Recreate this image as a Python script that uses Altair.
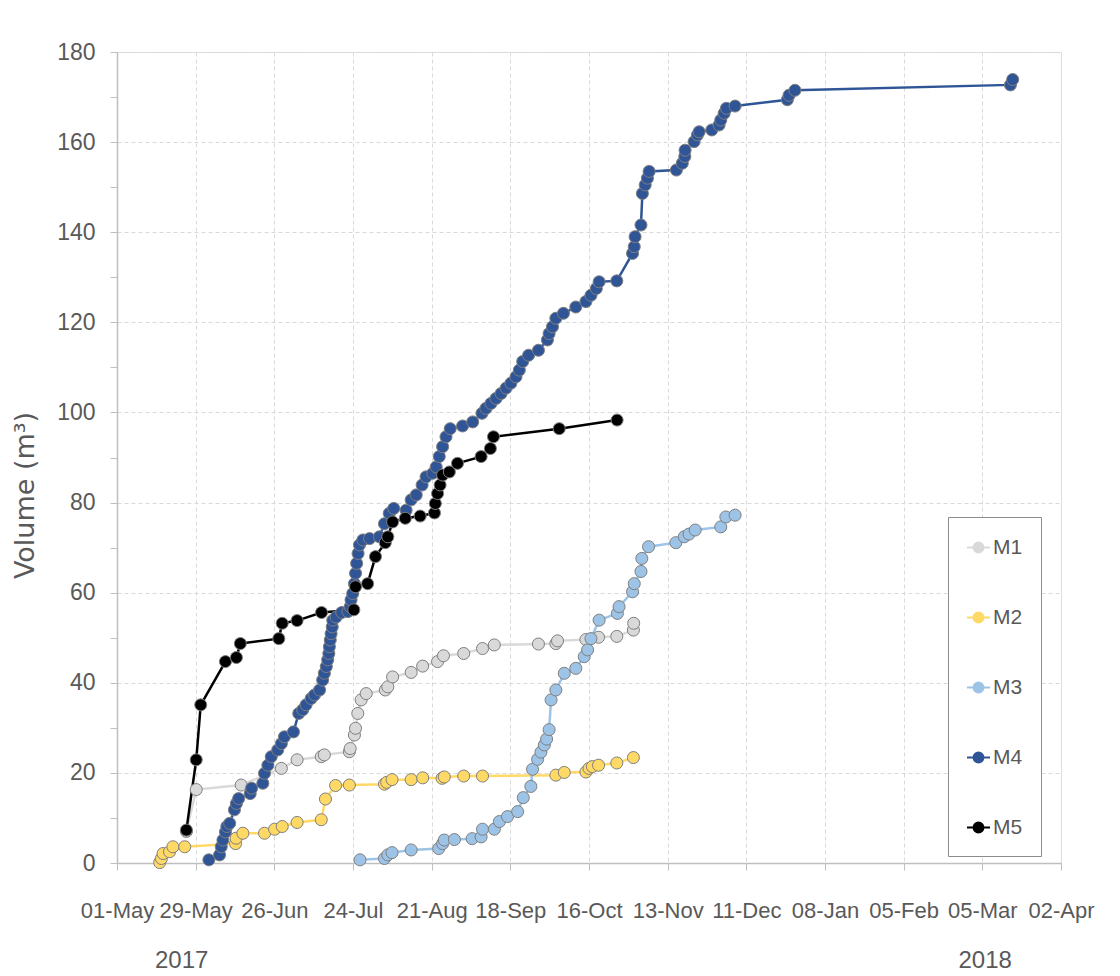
import datetime as dt
import altair as alt
import pandas as pd

# ---------------- data (days after 01-May-2017, volume in m3) ----------------
START = dt.date(2017, 5, 1)

series_names = ["M1", "M2", "M3", "M4", "M5"]
series_colors = ["#D9D9D9", "#FFD966", "#9DC3E6", "#2F5597", "#000000"]

m1_days = [24.7, 28.2, 44.2, 58.5, 64.1, 72.7, 73.8, 82.7, 83.0, 84.5, 84.9, 85.7,
           86.9, 88.7, 95.5, 96.4, 98.1, 104.7, 108.8, 114.1, 116.2, 123.4, 130.1,
           134.3, 150.0, 156.2, 156.8, 166.9, 171.4, 177.9, 183.8, 183.9]
m1_vol = [7.0, 16.3, 17.3, 21.0, 22.9, 23.6, 24.0, 24.7, 25.4, 28.4, 29.9, 33.2,
          36.2, 37.6, 38.4, 39.1, 41.3, 42.3, 43.7, 44.7, 46.0, 46.5, 47.6,
          48.4, 48.6, 48.7, 49.3, 49.6, 50.1, 50.3, 51.7, 53.2]

m2_days = [15.2, 15.8, 16.4, 18.7, 19.9, 24.1, 42.2, 42.4, 44.8, 52.5, 56.1, 58.8,
           64.1, 72.7, 74.2, 77.8, 82.7, 95.2, 96.0, 97.9, 104.7, 108.8, 115.7,
           116.5, 123.4, 130.1, 156.2, 159.2, 166.9, 168.0, 169.2, 171.4, 177.9, 183.8]
m2_vol = [0.1, 1.0, 2.1, 2.5, 3.6, 3.6, 4.3, 5.5, 6.6, 6.6, 7.5, 8.1,
          9.0, 9.6, 14.2, 17.2, 17.3, 17.5, 17.9, 18.5, 18.5, 18.9, 18.8,
          19.1, 19.3, 19.3, 19.5, 20.1, 20.2, 21.0, 21.4, 21.7, 22.2, 23.4]

m3_days = [86.5, 95.2, 96.4, 97.9, 104.7, 114.5, 115.9, 116.5, 120.1, 126.4, 129.6,
           130.1, 134.3, 136.1, 139.0, 142.6, 144.6, 147.3, 147.9, 149.7, 150.9,
           152.1, 152.9, 153.8, 154.5, 156.2, 159.2, 163.3, 166.3, 167.5, 168.7,
           171.6, 178.1, 178.7, 183.5, 184.1, 186.5, 186.8, 189.2, 198.9, 201.9,
           203.6, 205.8, 214.9, 216.7, 220.0]
m3_vol = [0.7, 1.0, 1.8, 2.3, 2.9, 3.2, 4.3, 5.1, 5.2, 5.4, 5.8,
          7.5, 7.5, 9.2, 10.3, 11.4, 14.5, 17.0, 20.8, 23.0, 24.6,
          26.2, 27.5, 29.6, 36.2, 38.4, 42.1, 43.2, 45.8, 47.3, 49.8,
          53.9, 55.4, 56.9, 60.2, 62.0, 64.7, 67.6, 70.2, 71.1, 72.4,
          73.0, 73.9, 74.6, 76.8, 77.2]

m4_days = [32.7, 36.5, 37.1, 37.7, 38.6, 39.1, 40.1, 41.8, 42.5, 43.3, 47.4, 47.9,
           51.9, 52.5, 53.7, 54.9, 57.2, 58.5, 59.6, 62.8, 64.7, 66.1, 67.3, 69.1,
           70.3, 72.1, 73.2, 73.8, 74.5, 75.0, 75.4, 75.6, 75.9, 76.2, 76.6, 76.8,
           78.0, 80.0, 82.2, 83.0, 83.3, 83.9, 84.5, 84.9, 85.3, 85.8, 86.3, 87.5,
           89.9, 93.4, 95.2, 96.9, 98.5, 102.9, 104.7, 106.5, 108.6, 110.0, 112.4,
           113.6, 114.7, 115.9, 117.1, 118.6, 123.0, 126.6, 129.9, 131.3, 133.1,
           134.9, 136.7, 138.5, 140.2, 142.0, 143.2, 144.4, 146.5, 150.0, 153.2,
           153.8, 155.0, 156.2, 158.9, 163.3, 166.9, 168.7, 170.6, 171.6, 177.9,
           183.5, 184.1, 184.4, 186.5, 187.0, 188.0, 188.8, 189.4, 199.1, 201.2,
           202.1, 202.2, 205.4, 206.6, 207.2, 211.7, 214.3, 214.9, 216.1, 216.9,
           220.0, 238.6, 239.2, 241.3, 318.0, 318.8]
m4_vol = [0.7, 1.8, 3.6, 5.1, 6.9, 8.1, 8.8, 11.8, 13.2, 14.3, 15.4, 16.6,
          17.7, 19.9, 21.7, 23.6, 25.1, 26.5, 28.0, 29.1, 33.2, 34.0, 35.1, 36.5,
          37.3, 38.4, 40.6, 42.1, 43.6, 45.1, 46.5, 48.0, 49.5, 50.9, 52.4, 53.9,
          54.6, 55.6, 55.8, 56.9, 58.4, 59.8, 62.0, 64.3, 66.5, 68.7, 70.6, 71.7,
          72.0, 72.4, 75.3, 77.6, 78.7, 78.3, 80.6, 81.7, 83.9, 85.7, 86.5,
          87.9, 90.2, 92.4, 94.6, 96.4, 97.0, 97.9, 99.8, 100.9, 102.0,
          103.1, 104.2, 105.4, 106.5, 107.9, 109.4, 111.3, 112.7, 113.8, 116.1,
          117.5, 119.0, 120.9, 122.0, 123.4, 124.6, 126.0, 127.5, 129.0, 129.2,
          135.3, 136.8, 139.0, 141.6, 148.6, 150.5, 152.0, 153.5, 153.8, 155.3,
          156.8, 158.2, 160.1, 161.6, 162.3, 162.7, 163.8, 164.9, 166.4, 167.5,
          168.0, 169.4, 170.4, 171.5, 172.7, 173.9]

m5_days = [24.7, 28.2, 29.8, 38.6, 42.5, 43.9, 57.6, 58.8, 64.1, 72.8, 84.3, 84.9,
           89.2, 92.0, 95.5, 96.4, 98.1, 102.6, 107.9, 113.0, 113.3, 114.1, 115.0,
           115.9, 118.3, 121.2, 129.6, 132.9, 134.0, 157.4, 178.0]
m5_vol = [7.3, 22.9, 35.1, 44.7, 45.6, 48.7, 49.8, 53.2, 53.8, 55.6, 56.2, 61.3,
          62.0, 68.0, 71.1, 72.4, 75.7, 76.5, 77.0, 77.7, 79.8, 82.0, 83.9,
          86.1, 86.8, 88.7, 90.2, 92.0, 94.6, 96.4, 98.3]

year_labels = ["2017", "2018"]
year_label_dates = ["2017-05-24", "2018-03-06"]

# ---------------- table ----------------
rows = []
for name, days, vols in zip(series_names,
                            [m1_days, m2_days, m3_days, m4_days, m5_days],
                            [m1_vol, m2_vol, m3_vol, m4_vol, m5_vol]):
    for d, v in zip(days, vols):
        t = pd.Timestamp(START) + pd.Timedelta(days=d)
        rows.append({"series": name, "date": t.strftime("%Y-%m-%dT%H:%M:%S"), "volume": v})
df = pd.DataFrame(rows)
years_df = pd.DataFrame({"year": year_labels, "date": year_label_dates})

# ---------------- styling ----------------
TICK_FONT = "Liberation Sans, Arial, sans-serif"
TEXT_GREY = "#595959"
AXIS_GREY = "#BFBFBF"
GRID_GREY = "#D9D9D9"

week_ticks = [START + dt.timedelta(days=7 * i) for i in range(49)]
x_values = [alt.DateTime(year=d.year, month=d.month, date=d.day) for d in week_ticks]
x_domain = [alt.DateTime(year=2017, month=5, date=1), alt.DateTime(year=2018, month=4, date=2)]

day_expr = "round((time(datum.value) - time(datetime(2017, 4, 1))) / 864e5)"

x_axis = alt.Axis(
    values=x_values,
    labelExpr=f"{day_expr} % 28 == 0 ? timeFormat(datum.value, '%d-%b') : ''",
    labelOverlap=False, labelFlush=False, labelBound=False,
    labelFont=TICK_FONT, labelFontSize=22, labelColor=TEXT_GREY, labelPadding=30,
    tickSize=7, tickColor=AXIS_GREY, domainColor=AXIS_GREY, domainWidth=1.5,
    grid=True, gridColor=GRID_GREY, gridDash=[4, 3], gridWidth=1,
    gridOpacity={"condition": {"test": f"{day_expr} % 28 == 0 && {day_expr} > 0 && {day_expr} < 336",
                               "value": 1}, "value": 0},
    title=None,
)

y_axis = alt.Axis(
    values=list(range(0, 181, 10)),
    labelExpr="datum.value % 20 == 0 ? datum.label : ''",
    labelFont=TICK_FONT, labelFontSize=23, labelColor=TEXT_GREY, labelPadding=15,
    tickSize=7, tickColor=AXIS_GREY, domainColor=AXIS_GREY, domainWidth=1.5,
    grid=True, gridColor=GRID_GREY, gridDash=[4, 3], gridWidth=1,
    gridOpacity={"condition": {"test": "datum.value % 20 == 0 && datum.value > 0", "value": 1},
                 "value": 0},
    title="Volume (m³)", titleFont="DejaVu Sans", titleFontSize=27, titleFontWeight="normal",
    titleColor=TEXT_GREY, titleAngle=270, titleX=-92, titleY=443,
    titleAlign="center", titleBaseline="middle",
)

x_enc = alt.X("date:T", scale=alt.Scale(domain=x_domain, nice=False), axis=x_axis)
y_enc = alt.Y("volume:Q", scale=alt.Scale(domain=[0, 180], nice=False), axis=y_axis)

color_scale = alt.Scale(domain=series_names, range=series_colors)

LEGEND_PATH = ("M-1,0L1,0M-0.43,0A0.43,0.43,0,1,1,0.43,0"
               "A0.43,0.43,0,1,1,-0.43,0Z")
legend_def = alt.Legend(
    title=None, orient="none", legendX=831, legendY=465,
    symbolType=LEGEND_PATH, symbolSize=529, symbolStrokeWidth=2,
    labelFont=TICK_FONT, labelFontSize=21, labelColor=TEXT_GREY, labelOffset=2,
    rowPadding=47, padding=18, strokeColor="#8C8C8C", fillColor="white",
)

base = alt.Chart(df)

lines = base.mark_line(strokeWidth=2.5).encode(
    x=x_enc, y=y_enc,
    stroke=alt.Stroke("series:N", scale=color_scale, legend=legend_def),
)

points = base.mark_point(filled=True, size=145, opacity=1, stroke="#7F7F7F",
                         strokeWidth=1, shape="circle").encode(
    x=x_enc, y=y_enc,
    fill=alt.Fill("series:N", scale=color_scale, legend=legend_def),
)

years = alt.Chart(years_df).mark_text(
    font=TICK_FONT, fontSize=24, color=TEXT_GREY, baseline="middle", align="center"
).encode(
    x=alt.X("date:T"),
    y=alt.value(909),
    text="year:N",
)

chart = alt.layer(lines, points, years).properties(
    width=944, height=811,
    padding={"left": 109, "top": 44, "right": 50, "bottom": 120},
    autosize=alt.AutoSizeParams(type="none"),
).configure_view(strokeWidth=0).configure(background="white")

chart.save("out.html", embed_options={"renderer": "svg", "actions": False})
